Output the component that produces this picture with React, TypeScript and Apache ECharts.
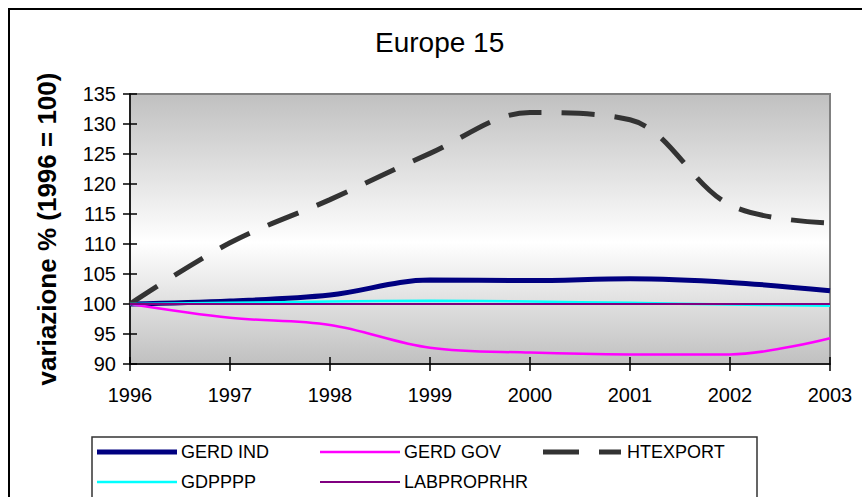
import React, { useEffect, useRef } from "react";
import * as echarts from "echarts";

// Years on the horizontal axis
const years = ["1996", "1997", "1998", "1999", "2000", "2001", "2002", "2003"];

// Index values, 1996 = 100
const gerdInd = [100, 100.5, 101.5, 104.0, 103.9, 104.2, 103.6, 102.2];
const gerdGov = [100, 97.7, 96.5, 92.7, 91.9, 91.6, 91.6, 94.3];
const htExport = [100, 110.2, 117.4, 125.1, 131.9, 130.7, 116.5, 113.5];
const gdpPpp = [100, 100.2, 100.4, 100.55, 100.4, 100.2, 99.9, 99.7];
const labProPrHr = [100, 100, 100, 100, 100, 100, 100, 100];

// Value axis range
const yMin = 90;
const yMax = 135;
const yStep = 5;

const FONT = "'Liberation Sans', Arial, sans-serif";

export default function App() {
  const ref = useRef<HTMLDivElement>(null);

  useEffect(() => {
    if (!ref.current) return;
    const chart = echarts.init(ref.current, undefined, { renderer: "svg" });

    const seriesDefs = [
      { name: "GERD IND", data: gerdInd, color: "#000080", width: 5, type: "solid" as any },
      { name: "GERD GOV", data: gerdGov, color: "#ff00ff", width: 2.5, type: "solid" as any },
      { name: "HTEXPORT", data: htExport, color: "#333333", width: 5, type: [33, 20] as any },
      { name: "GDPPPP", data: gdpPpp, color: "#00ffff", width: 2.5, type: "solid" as any },
      { name: "LABPROPRHR", data: labProPrHr, color: "#800080", width: 2, type: "solid" as any },
    ];

    // Legend slots: two rows, three columns
    const legendPos: Record<string, [number, number]> = {
      "GERD IND": [97, 443],
      "GERD GOV": [320, 443],
      HTEXPORT: [543, 443],
      GDPPPP: [97, 473],
      LABPROPRHR: [320, 473],
    };

    const legends = seriesDefs.map((s) => {
      const dashed = s.name === "HTEXPORT";
      const w = dashed ? 78 : 80;
      const icon = dashed
        ? `path://M0,0H36V${s.width}H0Z M56,0H78V${s.width}H56Z`
        : `path://M0,0H80V${s.width}H0Z`;
      return {
        data: [{ name: s.name, icon }],
        left: legendPos[s.name][0],
        top: legendPos[s.name][1],
        padding: 0,
        itemWidth: w,
        itemHeight: s.width,
        itemGap: 0,
        itemStyle: { color: s.color, borderWidth: 0 },
        lineStyle: { width: 0 },
        textStyle: {
          fontFamily: FONT,
          fontSize: 18,
          color: "#000",
          padding: [0, 0, 0, dashed ? 1 : -1],
        },
      };
    });

    const axisTickCommon = { length: 7, lineStyle: { color: "#000", width: 1.5 } };

    chart.setOption({
      animation: false,
      backgroundColor: "#ffffff",
      title: {
        text: "Europe 15",
        left: 375,
        top: 28,
        padding: 0,
        textStyle: { fontFamily: FONT, fontSize: 28, fontWeight: "normal", color: "#000" },
      },
      legend: legends,
      grid: {
        left: 130,
        right: 32,
        top: 94,
        bottom: 133,
        show: true,
        borderColor: "#808080",
        borderWidth: 2,
        backgroundColor: new echarts.graphic.LinearGradient(0, 0, 0, 1, [
          { offset: 0, color: "#c0c0c0" },
          { offset: 0.55, color: "#ffffff" },
          { offset: 1, color: "#c0c0c0" },
        ]),
      },
      xAxis: [
        {
          type: "category",
          data: years,
          boundaryGap: false,
          axisLine: { show: true, lineStyle: { color: "#000", width: 1.5 } },
          axisTick: { show: true, inside: false, alignWithLabel: true, ...axisTickCommon },
          axisLabel: { fontFamily: FONT, fontSize: 20, color: "#000", margin: 21 },
          splitLine: { show: false },
        },
        {
          type: "category",
          data: years,
          boundaryGap: false,
          position: "bottom",
          axisLine: { show: false },
          axisTick: { show: true, inside: true, alignWithLabel: true, ...axisTickCommon },
          axisLabel: { show: false },
          splitLine: { show: false },
        },
      ],
      yAxis: [
        {
          type: "value",
          min: yMin,
          max: yMax,
          interval: yStep,
          name: "variazione % (1996 = 100)",
          nameLocation: "middle",
          nameGap: 70,
          nameTextStyle: { fontFamily: FONT, fontSize: 26, fontWeight: "bold", color: "#000" },
          axisLine: { show: true, lineStyle: { color: "#000", width: 1.5 } },
          axisTick: { show: true, inside: false, ...axisTickCommon },
          axisLabel: { fontFamily: FONT, fontSize: 20, color: "#000", margin: 14 },
          splitLine: { show: false },
        },
        {
          type: "value",
          min: yMin,
          max: yMax,
          interval: yStep,
          position: "left",
          axisLine: { show: false },
          axisTick: { show: true, inside: true, ...axisTickCommon },
          axisLabel: { show: false },
          splitLine: { show: false },
        },
      ],
      series: seriesDefs.map((s) => ({
        name: s.name,
        type: "line",
        data: s.data,
        smooth: 0.35,
        symbol: "none",
        showSymbol: false,
        itemStyle: { color: s.color },
        lineStyle: { color: s.color, width: s.width, type: s.type, cap: "butt" },
        emphasis: { disabled: true },
      })),
      graphic: [
        {
          type: "rect",
          silent: true,
          shape: { x: 9, y: 9, width: 900, height: 600 },
          style: { fill: "none", stroke: "#000", lineWidth: 2 },
          z: 100,
        },
        {
          type: "rect",
          silent: true,
          shape: { x: 92, y: 437, width: 665, height: 100 },
          style: { fill: "none", stroke: "#333", lineWidth: 1.5 },
          z: 100,
        },
      ],
    });

    return () => chart.dispose();
  }, []);

  return (
    <div
      ref={ref}
      style={{ position: "absolute", left: 0, top: 0, width: 862, height: 497 }}
    />
  );
}
